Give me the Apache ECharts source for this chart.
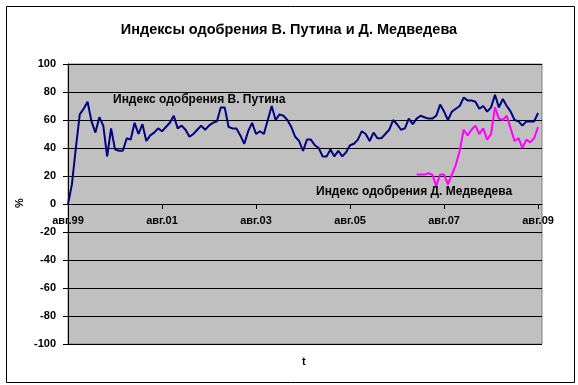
<!DOCTYPE html>
<html>
<head>
<meta charset="utf-8">
<script src="https://cdn.jsdelivr.net/npm/echarts@6/dist/echarts.min.js"></script>
<style>
html,body{margin:0;padding:0;background:#fff;}
#c{width:578px;height:385px;}
</style>
</head>
<body>
<div id="c"></div>
<script>
// Month categories: авг.99 ... сен.09
var monthNames = ['янв','фев','мар','апр','май','июн','июл','авг','сен','окт','ноя','дек'];
var startYear = 1999, startMonth = 7, monthCount = 122;
var categories = [];
for (var k = 0; k < monthCount; k++) {
  var m = (startMonth + k) % 12;
  var y = startYear + Math.floor((startMonth + k) / 12);
  categories.push(monthNames[m] + '.' + String(y % 100).padStart(2, '0'));
}
var tickLabels = ['авг.99','авг.01','авг.03','авг.05','авг.07','авг.09'];

// Индекс одобрения В. Путина (monthly from авг.99)
var putin = [
  0,14,40,64,68,73,59,51,62,56,
  34,54,39,38,38,47,46,58,50,57,
  45,49,51,54,52,55,58,63,54,56,
  53,48,50,53,56,53,56,58,59,69,
  69,55,54,54,49,43,52,58,50,52,
  50,60,70,60,64,63,60,55,48,45,
  38,46,46,42,40,34,34,39,34,38,
  34,37,42,43,46,52,50,45,51,47,
  47,50,53,60,57,53,54,61,57,61,
  63,62,61,61,63,71,66,60,66,68,
  70,76,74,74,73,68,70,66,69,78,
  69,75,70,66,60,59,56,59,59,59,
  65
];
// Индекс одобрения Д. Медведева (from янв.07, index 89)
var medvedevStart = 89;
var medvedevValues = [
  21,21,21,22,21,13,21,21,14,21,
  28,38,53,49,53,56,50,54,46,50,
  69,61,60,63,54,45,47,40,46,44,
  47,55
];
var medvedev = [];
for (var i = 0; i < medvedevStart; i++) medvedev.push(null);
medvedev = medvedev.concat(medvedevValues);

var FONT = '"Liberation Sans", Arial, sans-serif';
var chart = echarts.init(document.getElementById('c'), null, {renderer: 'canvas'});
chart.setOption({
  animation: false,
  backgroundColor: '#ffffff',
  grid: {
    left: 68, right: 36, top: 64, bottom: 41,
    show: true, backgroundColor: '#c0c0c0', borderColor: '#808080', borderWidth: 1
  },
  graphic: [
    {type: 'rect', left: 4, top: 4, z: -10, silent: true,
     shape: {width: 568, height: 376},
     style: {fill: 'none', stroke: '#000', lineWidth: 1}},
    {type: 'text', left: 'center', top: 22, z: 10,
     style: {text: 'Индексы одобрения В. Путина и Д. Медведева', font: 'bold 14.5px ' + FONT, fill: '#000'}},
    {type: 'text', left: 113, top: 94, z: 10,
     style: {text: 'Индекс одобрения В. Путина', font: 'bold 12px ' + FONT, fill: '#000'}},
    {type: 'text', left: 316, top: 186, z: 10,
     style: {text: 'Индекс одобрения Д. Медведева', font: 'bold 12px ' + FONT, fill: '#000'}},
    {type: 'text', left: 302, top: 356, z: 10,
     style: {text: 't', font: 'bold 11px ' + FONT, fill: '#000'}},
    {type: 'text', x: 20, y: 203, rotation: Math.PI / 2, z: 10,
     style: {text: '%', font: 'bold 11px ' + FONT, fill: '#000', align: 'center', verticalAlign: 'middle'}}
  ],
  xAxis: {
    type: 'category',
    data: categories,
    boundaryGap: false,
    position: 'bottom',
    offset: -140,
    axisLine: {onZero: false, lineStyle: {color: '#000', width: 1}},
    axisTick: {show: true, interval: 23, length: 5, lineStyle: {color: '#000'}},
    axisLabel: {
      interval: 23, margin: 11, color: '#000',
      fontFamily: FONT, fontWeight: 'bold', fontSize: 11,
      formatter: function (v) { return tickLabels.indexOf(v) >= 0 ? v : ''; }
    },
    splitLine: {show: false}
  },
  yAxis: {
    type: 'value', min: -100, max: 100, interval: 20,
    axisLine: {show: true, lineStyle: {color: '#000', width: 1}},
    axisTick: {show: true, length: 5, lineStyle: {color: '#000'}},
    axisLabel: {margin: 12, color: '#000', fontFamily: FONT, fontWeight: 'bold', fontSize: 11},
    splitLine: {show: true, lineStyle: {color: '#000', width: 1}}
  },
  series: [
    {type: 'line', name: 'Путин', data: putin, showSymbol: false, symbol: 'none',
     lineStyle: {color: '#000080', width: 2}, z: 3},
    {type: 'line', name: 'Медведев', data: medvedev, showSymbol: false, symbol: 'none',
     connectNulls: false, lineStyle: {color: '#ff00ff', width: 2}, z: 4}
  ]
});
</script>
</body>
</html>
